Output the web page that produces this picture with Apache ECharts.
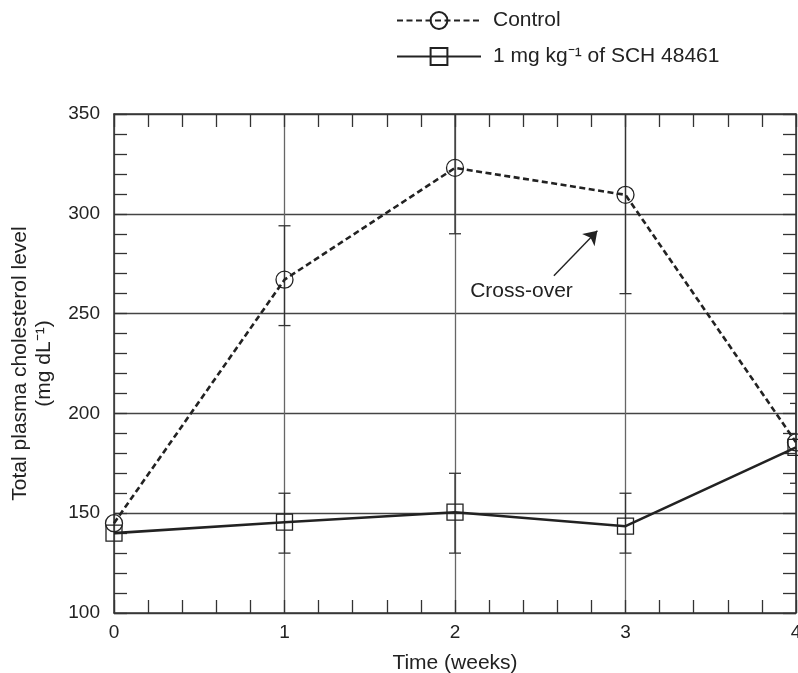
<!DOCTYPE html>
<html>
<head>
<meta charset="utf-8">
<script src="https://cdn.jsdelivr.net/npm/echarts@6/dist/echarts.min.js"></script>
<style>
  html, body { margin: 0; padding: 0; background: #fff; }
  #chart { width: 798px; height: 673px; }
</style>
</head>
<body>
<div id="chart"></div>
<script>
// values
const weeks = [0, 1, 2, 3, 4];
const controlMean = [145, 267, 323, 309.5, 185.5];
const controlLow = [null, 244, 290, 260, 165];
const controlHigh = [null, 294, 357, 359, 205];
const schMean = [140, 145.5, 150.5, 143.5, 183];
const schLow = [null, 130, 130, 130, null];
const schHigh = [null, 160, 170, 160, null];
const yTicks = [100, 150, 200, 250, 300, 350];
const crossOverText = [2.39, 261];
const arrowFrom = [2.58, 269];
const arrowTo = [2.835, 291.5];

const ink = '#222';
const gridGrey = '#666';
const font = 'Liberation Sans, Arial, sans-serif';

function pairs(means) {
  return weeks.map((w, i) => [w, means[i]]);
}
function bars(low, high) {
  const out = [];
  weeks.forEach((w, i) => {
    if (low[i] != null) out.push([w, low[i], high[i]]);
  });
  return out;
}

function renderErrorBar(params, api) {
  const x = api.value(0);
  const lo = api.coord([x, api.value(1)]);
  const hi = api.coord([x, api.value(2)]);
  const half = 6;
  const style = { stroke: '#333', lineWidth: 1.3 };
  return {
    type: 'group',
    children: [
      { type: 'line', shape: { x1: lo[0], y1: lo[1], x2: hi[0], y2: hi[1] }, style: style },
      { type: 'line', shape: { x1: lo[0] - half, y1: lo[1], x2: lo[0] + half, y2: lo[1] }, style: style },
      { type: 'line', shape: { x1: hi[0] - half, y1: hi[1], x2: hi[0] + half, y2: hi[1] }, style: style }
    ]
  };
}

const chart = echarts.init(document.getElementById('chart'));

const tickStyle = { color: '#333', width: 1.3 };
function xAxisBase(pos) {
  return {
    type: 'value', position: pos, min: 0, max: 4, interval: 1,
    axisLine: { show: true, onZero: false, lineStyle: { color: '#333', width: 1.5 } },
    axisTick: { show: true, inside: true, length: 13, lineStyle: tickStyle },
    minorTick: { show: true, splitNumber: 5, length: 13, lineStyle: tickStyle },
    splitLine: { show: false },
    axisLabel: { show: false }
  };
}
function yAxisBase(pos) {
  return {
    type: 'value', position: pos, min: yTicks[0], max: yTicks[yTicks.length - 1], interval: 50,
    axisLine: { show: true, onZero: false, lineStyle: { color: '#333', width: 1.5 } },
    axisTick: { show: true, inside: true, length: 13, lineStyle: tickStyle },
    minorTick: { show: true, splitNumber: 5, length: 13, lineStyle: tickStyle },
    splitLine: { show: false },
    axisLabel: { show: false }
  };
}

const xBottom = xAxisBase('bottom');
xBottom.splitLine = { show: true, lineStyle: { color: gridGrey, width: 1.3 } };
xBottom.axisLabel = { show: true, fontSize: 19, color: ink, fontFamily: font, margin: 10 };
xBottom.name = 'Time (weeks)';
xBottom.nameLocation = 'middle';
xBottom.nameGap = 40;
xBottom.nameTextStyle = { fontSize: 21, color: ink, fontFamily: font };

const yLeft = yAxisBase('left');
yLeft.splitLine = { show: true, lineStyle: { color: '#444', width: 1.3 } };
yLeft.axisLabel = { show: true, fontSize: 19, color: ink, fontFamily: font, margin: 14 };
yLeft.name = 'Total plasma cholesterol level\n(mg dL⁻¹)';
yLeft.nameLocation = 'middle';
yLeft.nameGap = 58;
yLeft.nameTextStyle = { fontSize: 21, lineHeight: 24, color: ink, fontFamily: font };

chart.setOption({
  animation: false,
  backgroundColor: '#fff',
  grid: { left: 114, right: 2, top: 114, bottom: 60, outerBoundsMode: 'none' },
  legend: {
    data: ['Control', '1 mg kg⁻¹ of SCH 48461'],
    orient: 'vertical',
    left: 396, top: 10, padding: 0,
    itemWidth: 84, itemHeight: 21, itemGap: 15,
    textStyle: { fontSize: 21, color: ink, fontFamily: font, padding: [0, 0, 0, 7] },
    selectedMode: false
  },
  xAxis: [xBottom, xAxisBase('top')],
  yAxis: [yLeft, yAxisBase('right')],
  series: [
    {
      type: 'custom', name: 'controlErr', renderItem: renderErrorBar, clip: true,
      encode: { x: 0, y: [1, 2] }, data: bars(controlLow, controlHigh), silent: true, z: 1
    },
    {
      type: 'custom', name: 'schErr', renderItem: renderErrorBar, clip: true,
      encode: { x: 0, y: [1, 2] }, data: bars(schLow, schHigh), silent: true, z: 1
    },
    {
      name: 'Control', type: 'line', data: pairs(controlMean), clip: false, z: 3,
      symbol: 'circle', symbolSize: 17,
      itemStyle: { color: 'transparent', borderColor: ink, borderWidth: 1.3 },
      lineStyle: { color: ink, width: 2.6, type: [6, 3.5] }
    },
    {
      name: '1 mg kg⁻¹ of SCH 48461', type: 'line', data: pairs(schMean), clip: false, z: 3,
      symbol: 'rect', symbolSize: 16,
      itemStyle: { color: 'transparent', borderColor: ink, borderWidth: 1.3 },
      lineStyle: { color: ink, width: 2.6, type: 'solid' },
      markLine: {
        silent: true, symbol: ['none', 'arrow'], symbolSize: 13,
        lineStyle: { color: ink, width: 1.4, type: 'solid' },
        itemStyle: { color: ink },
        label: { show: false },
        data: [[{ coord: arrowFrom }, { coord: arrowTo }]]
      },
      markPoint: {
        silent: true, symbol: 'circle', symbolSize: 1,
        itemStyle: { color: 'transparent' },
        label: { show: true, formatter: 'Cross-over', fontSize: 21, color: ink, fontFamily: font, position: 'inside' },
        data: [{ coord: crossOverText }]
      }
    }
  ]
});
</script>
</body>
</html>
